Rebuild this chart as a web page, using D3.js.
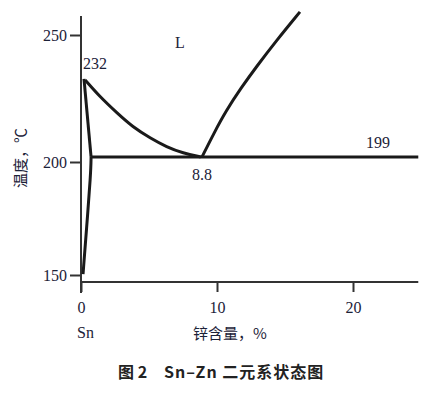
<!DOCTYPE html>
<html>
<head>
<meta charset="utf-8">
<script src="https://cdn.jsdelivr.net/npm/d3@7"></script>
<style>
  body { margin: 0; background: #fff; }
  svg { display: block; }
  .num { font-family: "Liberation Serif", "DejaVu Serif", serif; font-size: 16px; fill: #1c2238; }
  .cjk { font-family: "Noto Sans CJK SC", sans-serif; font-size: 15px; fill: #1c2238; }
</style>
</head>
<body>
<div id="chart"></div>
<script>
// tick values
var xTicks = [0, 10, 20];
var yTicks = [150, 200, 250];

// Sn-Zn phase lines, [Zn %, temperature]
var liquidusSn = [[0.3, 232.3], [1.4, 225.6], [2.65, 219.3], [3.8, 213.8], [5.1, 209.4],
                  [6.3, 205.9], [7.5, 203.5], [8.8, 202]];
var liquidusZn = [[8.9, 202], [9.78, 211.4], [10.66, 220.1], [11.76, 229.1], [12.94, 237.8],
                  [14.34, 247.6], [16.1, 259.1]];
var solidus = [[0.22, 232.7], [0.74, 202]];
var solvus = [[0.74, 202], [0.72, 195], [0.4, 170], [0.15, 150.4]];
var eutectic = [[0.74, 202], [24.8, 202]];

var width = 448, height = 393;

// the scan is not evenly spaced in temperature, so a piecewise scale
var x = d3.scaleLinear().domain([0, 20]).range([81, 353]);
var y = d3.scaleLinear().domain([150, 200, 250]).range([275, 162, 35]);
var xAxisY = 282;

var svg = d3.select("#chart").append("svg")
    .attr("width", width)
    .attr("height", height);

// y axis
var yAxis = svg.append("g")
    .attr("transform", "translate(" + x(0) + ",0)")
    .call(d3.axisLeft(y).tickValues(yTicks).tickSize(11).tickSizeOuter(0).tickPadding(3));
yAxis.select(".domain").remove();
yAxis.selectAll("line").attr("stroke", "#333").attr("stroke-width", 2);
yAxis.selectAll("text").attr("class", "num").attr("font-family", null).attr("font-size", null)
    .attr("dy", "0.36em");

svg.append("line")
    .attr("x1", x(0)).attr("x2", x(0))
    .attr("y1", y(257.5)).attr("y2", 293)
    .attr("stroke", "#333").attr("stroke-width", 2);

// x axis
var xAxis = svg.append("g")
    .attr("transform", "translate(0," + xAxisY + ")")
    .call(d3.axisBottom(x).tickValues(xTicks).tickSize(10).tickSizeOuter(0).tickPadding(10));
xAxis.select(".domain").remove();
xAxis.selectAll("line").attr("stroke", "#333").attr("stroke-width", 2);
xAxis.selectAll("text").attr("class", "num").attr("font-family", null).attr("font-size", null);

svg.append("line")
    .attr("x1", x(0)).attr("x2", x(24.8))
    .attr("y1", xAxisY).attr("y2", xAxisY)
    .attr("stroke", "#333").attr("stroke-width", 2);

// phase lines
var smooth = d3.line()
    .x(d => x(d[0]))
    .y(d => y(d[1]))
    .curve(d3.curveBasis);
var straight = d3.line()
    .x(d => x(d[0]))
    .y(d => y(d[1]));

[[liquidusSn, smooth], [liquidusZn, smooth], [solidus, straight], [solvus, smooth], [eutectic, straight]]
  .forEach(function(p) {
    svg.append("path")
        .datum(p[0])
        .attr("fill", "none")
        .attr("stroke", "#1a1a1a")
        .attr("stroke-width", 3)
        .attr("stroke-linejoin", "round")
        .attr("d", p[1]);
  });

// labels
svg.append("text").attr("class", "num").attr("x", 175).attr("y", 48).text("L");
svg.append("text").attr("class", "num").attr("x", 83).attr("y", 69).text("232");
svg.append("text").attr("class", "num").attr("x", 202).attr("y", 180)
    .attr("text-anchor", "middle").text("8.8");
svg.append("text").attr("class", "num").attr("x", 366).attr("y", 148).text("199");
svg.append("text").attr("class", "num").attr("x", 77).attr("y", 338).text("Sn");

svg.append("text").attr("class", "cjk").attr("x", 193).attr("y", 339).text("锌含量，%");

svg.append("text").attr("class", "cjk")
    .attr("transform", "translate(26,158) rotate(-90)")
    .attr("text-anchor", "middle")
    .text("温度，℃");

// caption
var cap = svg.append("text")
    .attr("y", 378)
    .style("font-family", "'Noto Sans CJK SC', sans-serif")
    .style("font-size", "16px")
    .style("font-weight", "bold")
    .style("fill", "#222");
cap.append("tspan").attr("x", 118).text("图 2");
cap.append("tspan").attr("x", 164).style("letter-spacing", "1px").text("Sn–Zn 二元系状态图");
</script>
</body>
</html>
